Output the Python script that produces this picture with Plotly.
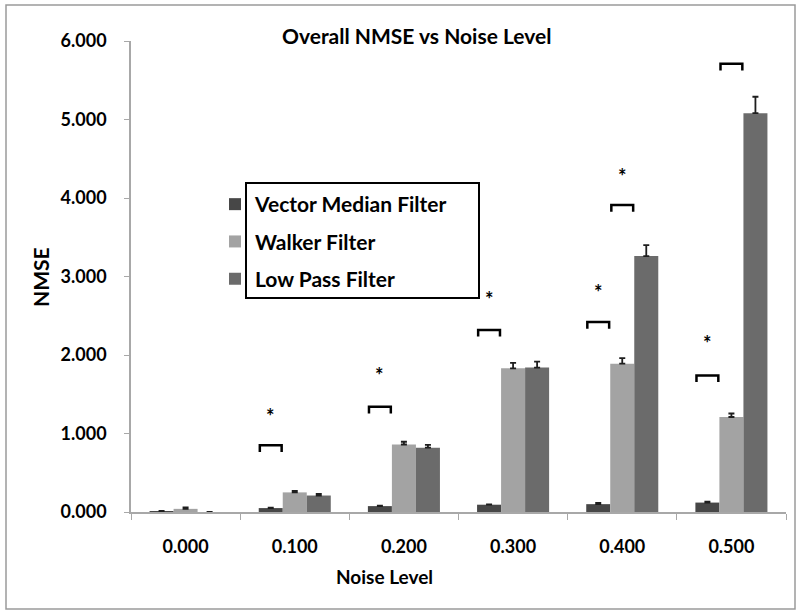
import plotly.graph_objects as go

# ---- data ----
categories = ["0.000", "0.100", "0.200", "0.300", "0.400", "0.500"]
series_names = ["Vector Median Filter", "Walker Filter", "Low Pass Filter"]
vmf = [0.010, 0.050, 0.075, 0.093, 0.100, 0.120]
vmf_err = [0.004, 0.005, 0.005, 0.005, 0.015, 0.012]
walker = [0.040, 0.250, 0.860, 1.830, 1.890, 1.210]
walker_err = [0.020, 0.020, 0.035, 0.070, 0.070, 0.045]
lpf = [0.000, 0.210, 0.820, 1.840, 3.260, 5.080]
lpf_err = [0.000, 0.020, 0.035, 0.075, 0.140, 0.210]
colors = ["#474747", "#a3a3a3", "#6b6b6b"]

# significance markers: category index, bar index (bracket over that bar), bracket level, star level
sig_cat = [1, 2, 3, 4, 4, 5, 5]
sig_bar = [0, 0, 0, 0, 1, 0, 1]
bracket_y = [0.85, 1.34, 2.32, 2.42, 3.91, 1.74, 5.71]
star_y = [1.27, 1.79, 2.76, 2.85, 4.33, 2.20, 6.10]

BARGAP = 0.34
bar_w = (1 - BARGAP) / 3
FONT = "Lato"

# plot area in pixels (for paper-coordinate placement of decorations)
L, R, T, B = 131, 786, 41, 512
def px(x):
    return (x - L) / (R - L)
def py(y):
    return (B - y) / (B - T)

fig = go.Figure()
for i, (name, vals, errs) in enumerate(zip(series_names, [vmf, walker, lpf], [vmf_err, walker_err, lpf_err])):
    fig.add_trace(go.Bar(
        x=categories, y=vals, name=f"<b>{name}</b>", legendgroup=name,
        marker=dict(color=colors[i], line=dict(width=0)),
        error_y=dict(type="data", array=errs, arrayminus=[0] * len(errs), symmetric=False,
                     visible=True, color="#1e1e1e", thickness=1.8, width=3),
    ))

shapes = []
annotations = []
leg = 0.085
for c, b, by, sy in zip(sig_cat, sig_bar, bracket_y, star_y):
    xc = c + (b - 1) * bar_w
    x0 = xc - 0.1
    x1 = xc + 0.1
    shapes.append(dict(type="path", xref="x", yref="y",
                       path=f"M {x0},{by-leg} L {x0},{by} L {x1},{by} L {x1},{by-leg}",
                       line=dict(color="black", width=2.5)))
    annotations.append(dict(x=xc, y=sy, xref="x", yref="y", text="<b>*</b>", showarrow=False,
                            font=dict(family=FONT, size=20, color="black"), yshift=-4))

# legend border box and outer chart border (paper coordinates)
shapes.append(dict(type="rect", xref="paper", yref="paper",
                   x0=px(246), x1=px(479), y0=py(298), y1=py(183),
                   line=dict(color="black", width=2)))
shapes.append(dict(type="rect", xref="paper", yref="paper",
                   x0=px(6), x1=px(795), y0=py(609), y1=py(5),
                   line=dict(color="#9a9a9a", width=1.5)))

annotations.append(dict(text="<b>Overall NMSE vs Noise Level</b>", x=px(416), y=py(35),
                        xref="paper", yref="paper", xanchor="center", yanchor="middle",
                        showarrow=False, font=dict(family=FONT, size=21, color="black")))
annotations.append(dict(text="<b>Noise Level</b>", x=px(384), y=py(576),
                        xref="paper", yref="paper", xanchor="center", yanchor="middle",
                        showarrow=False, font=dict(family=FONT, size=19, color="black")))
annotations.append(dict(text="<b>NMSE</b>", x=px(40), y=py(277),
                        xref="paper", yref="paper", xanchor="center", yanchor="middle",
                        showarrow=False, textangle=-90,
                        font=dict(family=FONT, size=21, color="black")))

fig.update_layout(
    width=800, height=615,
    margin=dict(l=L, r=800 - R, t=T, b=615 - B),
    paper_bgcolor="white", plot_bgcolor="white",
    barmode="group", bargap=BARGAP, bargroupgap=0,
    showlegend=True,
    legend=dict(x=px(215), y=py(184), xanchor="left", yanchor="top",
                bgcolor="rgba(0,0,0,0)", borderwidth=0, tracegroupgap=7,
                font=dict(family=FONT, size=21, color="black")),
    shapes=shapes, annotations=annotations,
    font=dict(family=FONT, color="black"),
)
fig.update_xaxes(type="category", showline=True, linecolor="#a8a8a8", linewidth=1.5,
                 ticks="outside", tickson="boundaries", ticklen=6, tickcolor="#a8a8a8",
                 ticklabelstandoff=18, showgrid=False, zeroline=False,
                 tickprefix="<b>", ticksuffix="</b>",
                 tickfont=dict(family=FONT, size=18, color="black"))
fig.update_yaxes(range=[0, 6], dtick=1, tickformat=".3f", showline=True, linecolor="#a8a8a8",
                 linewidth=1.5, ticks="outside", ticklen=5, tickcolor="#a8a8a8",
                 ticklabelstandoff=14, showgrid=False, zeroline=False,
                 tickprefix="<b>", ticksuffix="</b>",
                 tickfont=dict(family=FONT, size=18, color="black"))

fig.write_html("out.html", config={"displayModeBar": False},
               post_script="document.body.style.margin='0';")
